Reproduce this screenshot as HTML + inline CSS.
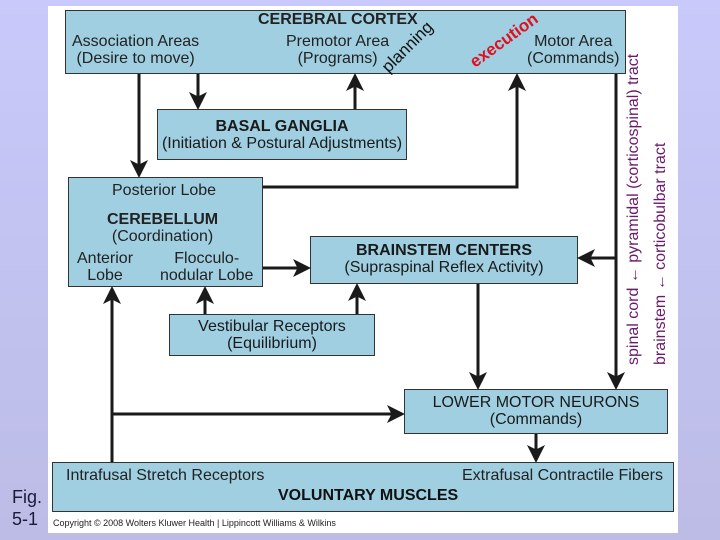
<!DOCTYPE html>
<html><head><style>
body{margin:0;width:720px;height:540px;overflow:hidden;background:linear-gradient(#c9c9fb,#bcbce6);font-family:"Liberation Sans",sans-serif;position:relative}
.p{position:absolute;left:48px;top:6px;width:630px;height:527px;background:#fff}
.b{position:absolute;background:#9fcfe0;border:1.5px solid #333;box-sizing:border-box;color:#1a1a1a;font-size:16px;text-align:center;line-height:17px}
.t{position:absolute;white-space:nowrap}
svg{position:absolute;left:0;top:0}
</style></head><body>
<div class="p"></div>
<div class="b" style="left:65px;top:10px;width:561px;height:64px"></div>
<div class="t" style="left:258px;top:11px;font-size:16px;font-weight:bold;color:#222">CEREBRAL CORTEX</div>
<div class="t" style="left:72px;top:33px;font-size:16px;line-height:17px;text-align:center;color:#222">Association Areas<br>(Desire to move)</div>
<div class="t" style="left:286px;top:33px;font-size:16px;line-height:17px;text-align:center;color:#222">Premotor Area<br>(Programs)</div>
<div class="t" style="left:527px;top:33px;font-size:16px;line-height:17px;text-align:center;color:#222">Motor Area<br>(Commands)</div>
<div class="t" style="left:392px;top:57px;font-size:17px;transform:rotate(-45deg);transform-origin:left bottom;color:#111">planning</div>
<div class="t" style="left:478px;top:52px;font-size:17px;font-weight:bold;transform:rotate(-36deg);transform-origin:left bottom;color:#e01020">execution</div>
<div class="b" style="left:157px;top:109px;width:250px;height:51px;padding-top:8px"><b>BASAL GANGLIA</b><br>(Initiation &amp; Postural Adjustments)</div>
<div class="b" style="left:68px;top:177px;width:195px;height:110px"></div>
<div class="t" style="left:112px;top:182px;font-size:16px;color:#222">Posterior Lobe</div>
<div class="t" style="left:107px;top:211px;font-size:16px;line-height:17px;text-align:center;color:#222"><b>CEREBELLUM</b><br>(Coordination)</div>
<div class="t" style="left:77px;top:250px;font-size:16px;line-height:17px;text-align:center;color:#222">Anterior<br>Lobe</div>
<div class="t" style="left:160px;top:250px;font-size:16px;line-height:17px;text-align:center;color:#222">Flocculo-<br>nodular Lobe</div>
<div class="b" style="left:310px;top:236px;width:268px;height:48px;padding-top:5px"><b>BRAINSTEM CENTERS</b><br>(Supraspinal Reflex Activity)</div>
<div class="b" style="left:169px;top:314px;width:206px;height:42px;padding-top:3px">Vestibular Receptors<br>(Equilibrium)</div>
<div class="b" style="left:404px;top:389px;width:264px;height:45px;padding-top:4px">LOWER MOTOR NEURONS<br>(Commands)</div>
<div class="b" style="left:52px;top:462px;width:622px;height:50px"></div>
<div class="t" style="left:66px;top:467px;font-size:16px;color:#222">Intrafusal Stretch Receptors</div>
<div class="t" style="left:462px;top:467px;font-size:16px;color:#222">Extrafusal Contractile Fibers</div>
<div class="t" style="left:278px;top:487px;font-size:16px;font-weight:bold;color:#111">VOLUNTARY MUSCLES</div>
<div class="t" style="left:53px;top:518px;font-size:9px;color:#222">Copyright © 2008 Wolters Kluwer Health | Lippincott Williams &amp; Wilkins</div>
<div class="t" style="left:12px;top:486px;font-size:18px;line-height:22px;color:#1a1a3a">Fig.<br>5-1</div>
<div class="t" style="left:625px;top:365px;font-size:16px;color:#6a1a6a;transform:rotate(-90deg);transform-origin:left top">spinal cord ← pyramidal (corticospinal) tract</div>
<div class="t" style="left:652px;top:365px;font-size:16px;color:#6a1a6a;transform:rotate(-90deg);transform-origin:left top">brainstem ← corticobulbar tract</div>
<svg width="720" height="540" fill="none" stroke="#1a1a1a" stroke-width="3">
<defs><marker id="a" markerWidth="6" markerHeight="6" refX="5" refY="3" orient="auto" markerUnits="strokeWidth"><path d="M0,0 L6,3 L0,6 L1.5,3z" fill="#1a1a1a" stroke="none"/></marker></defs>
<path d="M139,74 V175" marker-end="url(#a)"/>
<path d="M198,74 V107" marker-end="url(#a)"/>
<path d="M355,109 V76" marker-end="url(#a)"/>
<path d="M263,187 H517 V76" marker-end="url(#a)"/>
<path d="M616,74 V387" marker-end="url(#a)"/>
<path d="M616,258 H580" marker-end="url(#a)"/>
<path d="M263,268 H308" marker-end="url(#a)"/>
<path d="M205,314 V289" marker-end="url(#a)"/>
<path d="M357,314 V286" marker-end="url(#a)"/>
<path d="M112,462 V289" marker-end="url(#a)"/>
<path d="M112,414 H402" marker-end="url(#a)"/>
<path d="M478,284 V387" marker-end="url(#a)"/>
<path d="M536,434 V460" marker-end="url(#a)"/>
</svg>
</body></html>
